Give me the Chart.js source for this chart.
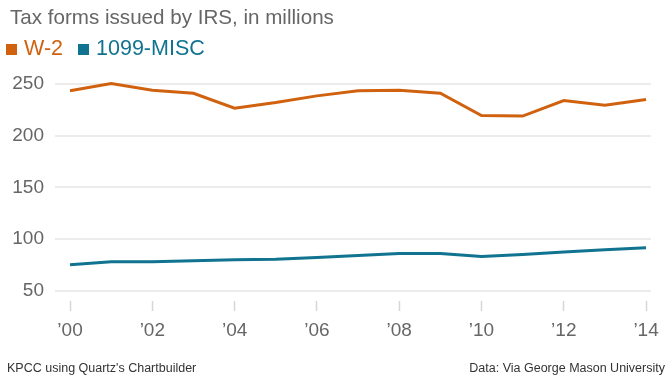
<!DOCTYPE html>
<html>
<head>
<meta charset="utf-8">
<script src="https://cdn.jsdelivr.net/npm/chart.js@4/dist/chart.umd.min.js"></script>
<style>
  body { margin: 0; background: #fff; font-family: "Liberation Sans", Arial, sans-serif; }
  #wrap { position: relative; width: 672px; height: 378px; overflow: hidden; }
  #chart { position: absolute; left: 0; top: 0; }
  .title { position: absolute; left: 10px; top: 5px; font-size: 20.6px; color: #666; }
  .legend { position: absolute; left: 6px; top: 36px; font-size: 21.5px; white-space: nowrap; }
  .legend span.sw { display: inline-block; width: 11px; height: 11px; margin-right: 7px; }
  .legend span.item { margin-right: 9px; }
  .foot { position: absolute; top: 361px; font-size: 12.5px; color: #333; }
</style>
</head>
<body>
<div id="wrap">
  <canvas id="chart" width="672" height="378"></canvas>
  <div class="title">Tax forms issued by IRS, in millions</div>
  <div class="legend">
    <span class="item" style="color:#d0620f"><span class="sw" style="background:#d0620f"></span>W-2</span>
    <span class="item" style="color:#10738f"><span class="sw" style="background:#10738f"></span>1099-MISC</span>
  </div>
  <div class="foot" style="left:7px">KPCC using Quartz's Chartbuilder</div>
  <div class="foot" style="right:7px">Data: Via George Mason University</div>
</div>
<script>
// DATA
const years = [2000, 2001, 2002, 2003, 2004, 2005, 2006, 2007, 2008, 2009, 2010, 2011, 2012, 2013, 2014]
const w2 = [243.5, 250.5, 244, 241, 226.5, 232, 238.5, 243.5, 244, 241, 219.5, 219, 234, 229.5, 235]
const misc = [75, 78, 78, 79, 80, 80.5, 82, 84, 86, 86, 83, 85, 87.5, 89.5, 91.5]
const xTicks = [2000, 2002, 2004, 2006, 2008, 2010, 2012, 2014]
const yTicks = [50, 100, 150, 200, 250]

function points(values) {
    return years.map((y, i) => ({ x: y, y: values[i] }))
}

const tickFont = { family: "'Liberation Sans', Arial, sans-serif", size: 19 }

const chart = new Chart(document.getElementById("chart"), {
    type: 'line',
    data: {
        datasets: [{
                label: "W-2",
                data: points(w2),
                borderColor: '#d0620f',
                borderWidth: 3,
                pointRadius: 0,
                tension: 0,
                clip: false
            },
            {
                label: "1099-MISC",
                data: points(misc),
                borderColor: '#10738f',
                borderWidth: 3,
                pointRadius: 0,
                tension: 0,
                clip: false
            }
        ]
    },
    options: {
        responsive: false,
        animation: false,
        layout: { padding: { top: 84, right: 21, bottom: 27, left: 0 } },
        plugins: { legend: { display: false }, tooltip: { enabled: false } },
        scales: {
            x: {
                type: 'linear',
                min: 1999.635,
                max: 2014.12,
                afterBuildTicks: s => { s.ticks = xTicks.map(v => ({ value: v })) },
                afterFit: s => { s.height = 50 },
                border: { display: false },
                grid: { drawOnChartArea: false, drawTicks: true, tickLength: 10, tickColor: '#d6d6d6', tickWidth: 1.5 },
                ticks: {
                    font: tickFont,
                    color: '#666',
                    padding: 8,
                    maxRotation: 0,
                    callback: v => '\u2019' + String(v).slice(2)
                }
            },
            y: {
                min: 40,
                max: 250,
                afterBuildTicks: s => { s.ticks = yTicks.map(v => ({ value: v })) },
                afterFit: s => { s.width = 55 },
                border: { display: false },
                grid: { drawTicks: false, color: '#ececec', lineWidth: 2 },
                ticks: { font: tickFont, color: '#666', padding: 11 }
            }
        }
    }
});
</script>
</body>
</html>
